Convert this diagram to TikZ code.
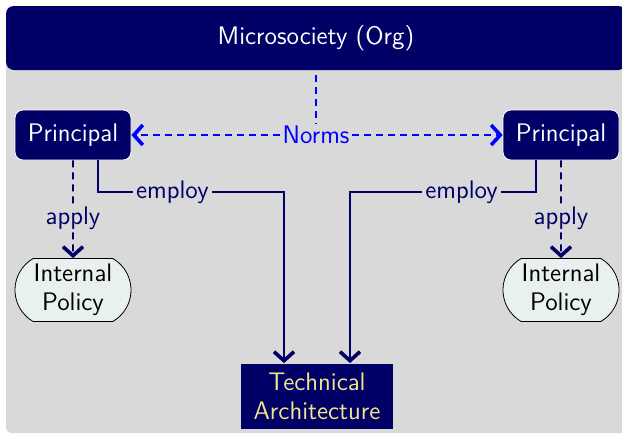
\documentclass[tikz,border=0pt]{standalone}
\usepackage{tikz}
\usetikzlibrary{arrows.meta,shapes.misc}
\definecolor{orgnavy}{RGB}{0,0,102}
\definecolor{orggray}{RGB}{217,217,217}
\definecolor{policyfill}{RGB}{232,240,240}
\definecolor{techtext}{RGB}{240,230,140}
\tikzset{
	orgbar/.style={fill=orgnavy, text=white, rounded corners=4pt, minimum width=310pt, minimum height=32pt},
	principal/.style={fill=orgnavy, draw=white, line width=0.4pt, text=white, rounded corners=4pt, minimum width=58pt, minimum height=25pt, inner sep=2pt},
	policy/.style={rounded rectangle, rounded rectangle arc length=120, draw=black, line width=0.4pt, fill=policyfill, text=black, align=center, minimum width=60pt, minimum height=31.5pt, inner sep=1pt},
	techbox/.style={fill=orgnavy, text=techtext, align=center, minimum width=76pt, minimum height=32.5pt, inner sep=2pt},
	lbl/.style={fill=orggray, text=orgnavy, inner sep=1.5pt},
	barb/.style={-{Straight Barb[length=4.5pt,width=10pt,line width=1.8pt]}},
	normline/.style={blue, line width=1.2pt, dash pattern=on 3.5pt off 2.5pt},
	applyline/.style={orgnavy, line width=0.8pt, dash pattern=on 3.5pt off 2.5pt},
	flow/.style={orgnavy, line width=1pt}
}
\begin{document}
\begin{tikzpicture}[x=0.5pt, y=-0.5pt, font=\fontsize{12.7}{14.6}\selectfont\sffamily]
	%%%%% START %%%%%
	
	\useasboundingbox (0, 0) rectangle (622, 435);
	\clip (0, 0) rectangle (622, 435);
	\fill[orggray, rounded corners=3pt] (6, 6) rectangle (640, 433);
	
	\node[orgbar] (org) at (316, 38) {Microsociety (Org)};
	
	\node[principal] (lp) at (73, 135) {Principal};
	\node[principal] (rp) at (561, 135) {Principal};
	\node[fill=orggray, text=blue, inner sep=1pt] (norms) at (316, 135) {Norms};
	
	\node[policy] (lpol) at (73, 290) {Internal\\Policy};
	\node[policy] (rpol) at (561, 290) {Internal\\Policy};
	
	\node[techbox] (tech) at (317, 396) {Technical\\Architecture};
	
	% norms
	\draw[normline, shorten <=2.5pt] (org) -- (norms);
	\draw[normline, barb] (norms) -- (lp);
	\draw[normline, barb] (norms) -- (rp);
	
	% apply
	\draw[applyline, barb] (lp) -- node[lbl, pos=0.59] {apply} (lpol);
	\draw[applyline, barb] (rp) -- node[lbl, pos=0.59] {apply} (rpol);
	
	% employ
	\draw[flow, barb] ([xshift=12.5pt]lp.south) -- ++(0, 32) -| node[lbl, pos=0.2] {employ} ([xshift=-16.5pt]tech.north);
	\draw[flow, barb] ([xshift=-12.5pt]rp.south) -- ++(0, 32) -| node[lbl, pos=0.2] {employ} ([xshift=16.5pt]tech.north);
	
	%%%%% END %%%%%
\end{tikzpicture}
\end{document}
